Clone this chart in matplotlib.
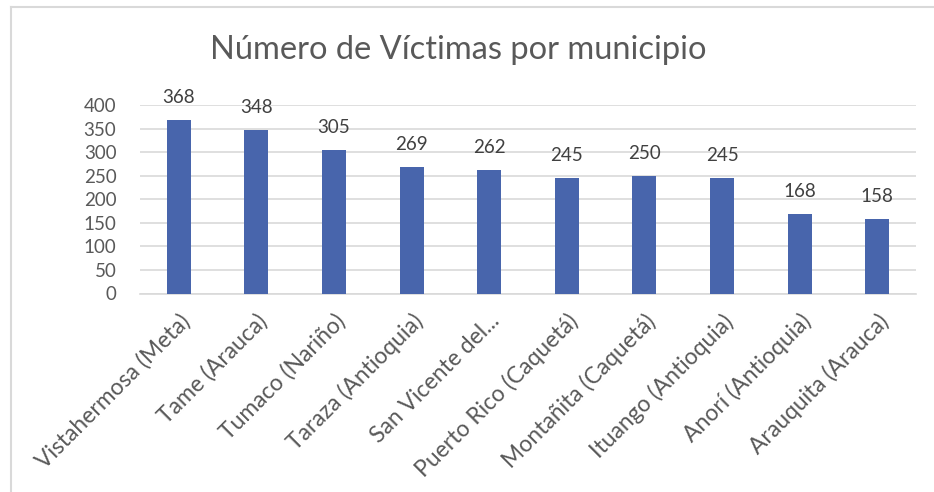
import matplotlib
matplotlib.use('Agg')
import matplotlib.pyplot as plt
from matplotlib.lines import Line2D

municipios = ['Vistahermosa (Meta)', 'Tame (Arauca)', 'Tumaco (Nariño)',
              'Taraza (Antioquia)', 'San Vicente del...', 'Puerto Rico (Caquetá)',
              'Montañita (Caquetá)', 'Ituango (Antioquia)', 'Anorí (Antioquia)',
              'Arauquita (Arauca)']
victimas = [368, 348, 305, 269, 262, 245, 250, 245, 168, 158]
yticks = [0, 50, 100, 150, 200, 250, 300, 350, 400]

plt.rcParams['font.family'] = ['Lato', 'DejaVu Sans']
txt = '#595959'

fig = plt.figure(figsize=(9.34, 4.92), dpi=100)
ax = fig.add_axes([140/934, 1-293.5/492, 776/934, (293.5-105)/492])

x = range(len(municipios))
bars = ax.bar(x, victimas, width=0.31, color='#4865AC', zorder=3)
for b, v in zip(bars, victimas):
    ax.annotate(str(v), (b.get_x() + b.get_width()/2, v), xytext=(0, 10),
                textcoords='offset points', ha='center', va='bottom',
                fontsize=13.5, color='#404040')

ax.set_xlim(-0.5, len(municipios) - 0.5)
ax.set_ylim(0, 400)
ax.set_yticks(yticks)
ax.yaxis.grid(True, color='#d9d9d9', linewidth=1.2, zorder=0)
for s in ['top', 'right', 'left']:
    ax.spines[s].set_visible(False)
ax.spines['bottom'].set_color('#d9d9d9')
ax.spines['bottom'].set_linewidth(1.2)
ax.tick_params(axis='both', length=0, labelcolor=txt, labelsize=13.5)
ax.tick_params(axis='y', pad=17)
ax.set_xticks(list(x))
ax.set_xticklabels(municipios, rotation=45, ha='right', rotation_mode='anchor',
                   fontsize=16.5)
ax.tick_params(axis='x', pad=12)

fig.text(458/934, 1-50/492, 'Número de Víctimas por municipio', ha='center',
         va='center', fontsize=23.5, color=txt)

# chart frame (only top and left visible in the crop)
fig.add_artist(Line2D([10.5/934, 1], [1-6.5/492]*2, color='#d9d9d9', lw=1.5))
fig.add_artist(Line2D([10.5/934]*2, [0, 1-6.5/492], color='#d9d9d9', lw=1.5))

fig.savefig('out.png', dpi=100)
